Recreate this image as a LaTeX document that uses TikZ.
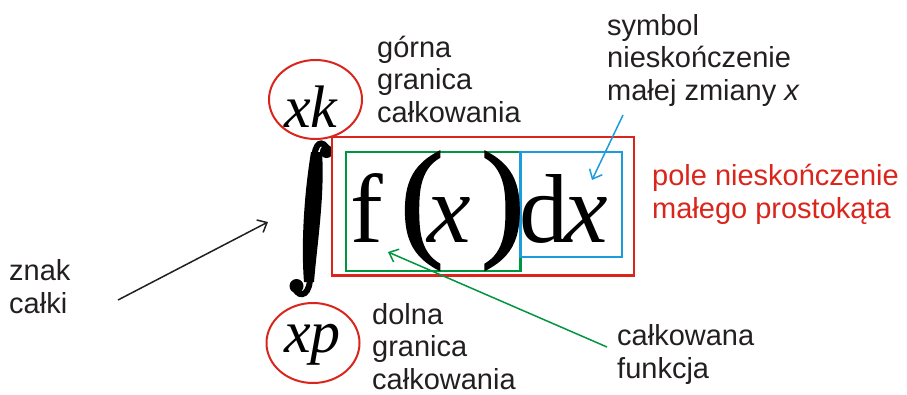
\documentclass[tikz,border=0pt]{standalone}
\usepackage{fontspec}
\setmainfont{Liberation Sans}
\newfontfamily\tnr{Liberation Serif}
\newfontfamily\tnrheavy[FakeBold=1.6]{Liberation Serif}
\usetikzlibrary{arrows.meta}
\definecolor{cred}{RGB}{218,37,29}
\definecolor{cgreen}{RGB}{0,150,64}
\definecolor{cblue}{RGB}{28,156,220}
\definecolor{ctext}{RGB}{35,31,32}
\begin{document}
\begin{tikzpicture}[x=1pt,y=-1pt,
  lbl/.style={font=\fontsize{29}{32.5}\selectfont, text=ctext, align=left, anchor=base west, inner sep=0pt},
  big/.style={font=\tnr\fontsize{98}{98}\selectfont, text=black, anchor=base west, inner sep=0pt},
  paren/.style={font=\tnrheavy\fontsize{130}{130}\selectfont, text=black, anchor=base west, inner sep=0pt},
  lim/.style={font=\tnr\itshape\fontsize{60}{60}\selectfont, text=black, anchor=base west, inner sep=0pt},
  box/.style={line width=2.2pt},
  arr/.style={line width=1.5pt, -{Straight Barb[length=8pt,width=14pt]}}]
\useasboundingbox (0,0) rectangle (907,394);
% limit rings
\draw[cred, line width=2pt] (315.5,99.5) ellipse [x radius=46.5, y radius=39.5];
\draw[cred, line width=2pt] (313,343) ellipse [x radius=46.5, y radius=40];
\node[lim] (xk) at (284,127) {xk};
\node[lim] (xp) at (284,352) {xp};
% integral sign
\fill (326.5,151.5) circle (6.5);
\fill (296.5,286) circle (7);
\draw[line width=6pt] (328,150) .. controls (323,139) and (314,141) .. (314,162);
\draw[line width=6pt] (295,289) .. controls (300,299) and (311,295) .. (310,274);
\fill (311,152) .. controls (304,195) and (301,245) .. (304,282) -- (314,282) .. controls (317,245) and (325,195) .. (322,152) -- cycle;
% boxes
\draw[cred, box] (332,137) rectangle (634,275.5);
\draw[cgreen, box] (345.7,152) rectangle (520.5,271);
\draw[cblue, box] (520.5,152) rectangle (621.7,257.3);
% formula
\node[big] (f) at (350,242) {f};
\node[paren] (lp) at (400,242) {(};
\node[big] (x1) at (427,242) {\itshape x};
\node[paren] (rp) at (481,242) {)};
\node[big] (d) at (519,242) {d};
\node[big] (x2) at (564,242) {\itshape x};
% labels (anchor at baseline of last line)
\node[lbl] (upper) at (377,122) {górna\\granica\\całkowania};
\node[lbl] (sym) at (607,100) {symbol\\nieskończenie\\małej zmiany \textit{x}};
\node[lbl, text=cred] (area) at (652,218) {pole nieskończenie\\małego prostokąta};
\node[lbl] (sign) at (9,313) {znak\\całki};
\node[lbl] (lower) at (372,389) {dolna\\granica\\całkowania};
\node[lbl] (func) at (617,378) {całkowana\\funkcja};
% arrows
\coordinate (a1s) at (118,300);
\coordinate (a1e) at (268,222);
\coordinate (a2s) at (623,115);
\coordinate (a2e) at (592,180);
\coordinate (a3s) at (607,347);
\coordinate (a3e) at (388,252);
\draw[arr, ctext] (a1s) -- (a1e);
\draw[arr, cblue] (a2s) -- (a2e);
\draw[arr, cgreen] (a3s) -- (a3e);
\end{tikzpicture}
\end{document}
